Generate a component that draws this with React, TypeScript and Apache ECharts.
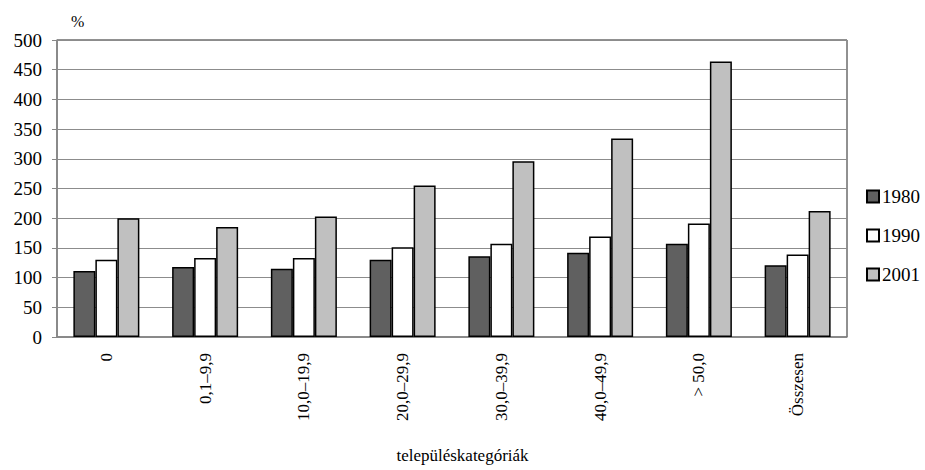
import React, { useEffect, useRef } from "react";
import * as echarts from "echarts";

const categories = ["0", "0,1–9,9", "10,0–19,9", "20,0–29,9", "30,0–39,9", "40,0–49,9", "> 50,0", "Összesen"];
const seriesNames = ["1980", "1990", "2001"];
const values1980 = [111, 118, 115, 130, 136, 142, 157, 121];
const values1990 = [130, 133, 133, 151, 157, 169, 191, 139];
const values2001 = [200, 185, 203, 255, 296, 334, 464, 212];
const seriesColors = ["#606060", "#ffffff", "#c0c0c0"];
const yAxisName = "%";
const xAxisName = "településkategóriák";

const FONT = "Liberation Serif";

export default function App() {
  const ref = useRef<HTMLDivElement>(null);
  useEffect(() => {
    document.body.style.margin = "0";
    if (!ref.current) return;
    const chart = echarts.init(ref.current, null, { renderer: "svg" });
    const data = [values1980, values1990, values2001];
    chart.setOption({
      animation: false,
      textStyle: { fontFamily: FONT, color: "#000" },
      grid: {
        left: 57,
        right: 78,
        top: 40,
        bottom: 133,
        show: true,
        borderColor: "#222",
        borderWidth: 1,
        backgroundColor: "transparent",
      },
      legend: {
        orient: "vertical",
        left: 861,
        top: 182,
        itemWidth: 12,
        itemHeight: 12,
        itemGap: 20,
        icon: "rect",
        textStyle: { fontFamily: FONT, fontSize: 19, color: "#000", padding: [0, 0, 0, -2] },
        data: seriesNames,
      },
      graphic: [
        {
          type: "text",
          left: 71,
          top: 13,
          style: { text: yAxisName, fontFamily: FONT, fontSize: 16, fill: "#000" },
        },
        {
          type: "text",
          left: "center",
          top: 447,
          style: { text: xAxisName, fontFamily: FONT, fontSize: 17, fill: "#000" },
        },
      ],
      xAxis: {
        type: "category",
        data: categories,
        axisLine: { lineStyle: { color: "#888", width: 1.5 } },
        axisTick: { show: false },
        axisLabel: {
          rotate: 90,
          margin: 16,
          fontFamily: FONT,
          fontSize: 17,
          color: "#000",
          interval: 0,
        },
      },
      yAxis: {
        type: "value",
        min: 0,
        max: 500,
        interval: 50,
        axisLine: { show: true, lineStyle: { color: "#888", width: 1.5 } },
        axisTick: { show: true, length: 5, lineStyle: { color: "#888" } },
        axisLabel: { fontFamily: FONT, fontSize: 19, color: "#000", margin: 15 },
        splitLine: { lineStyle: { color: "#8c8c8c", width: 1 } },
      },
      series: seriesNames.map((name, i) => ({
        name,
        type: "bar",
        data: data[i],
        barWidth: 22,
        barGap: "0%",
        itemStyle: { color: seriesColors[i], borderColor: "#000", borderWidth: 1.5 },
      })),
    });
    return () => chart.dispose();
  }, []);
  return <div ref={ref} style={{ width: 925, height: 470 }} />;
}
